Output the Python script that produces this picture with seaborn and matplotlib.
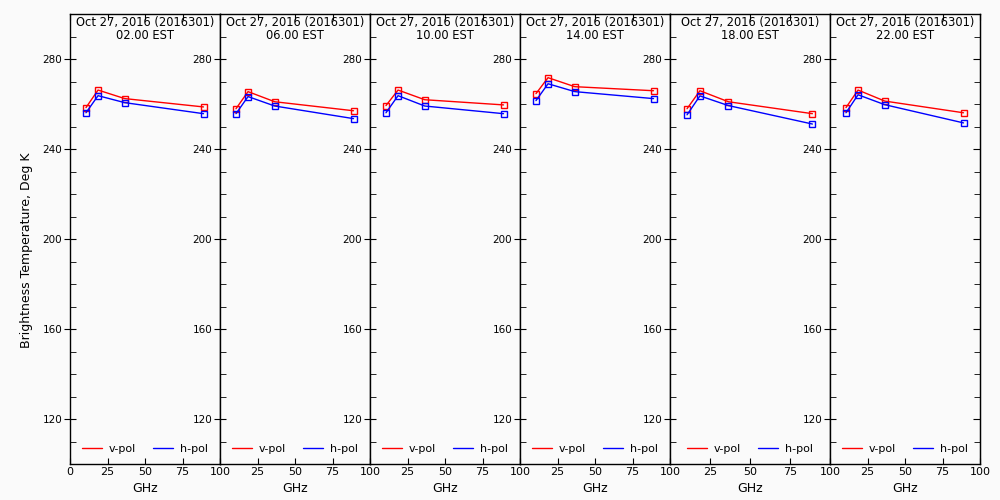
import matplotlib
matplotlib.use("Agg")
import matplotlib.pyplot as plt
from matplotlib.lines import Line2D
import pandas as pd
import seaborn as sns

# channel frequencies, GHz
freqs = [10.65, 18.7, 36.5, 89.0]

date_label = "Oct 27, 2016 (2016301)"
hours = ["02.00 EST", "06.00 EST", "10.00 EST", "14.00 EST", "18.00 EST", "22.00 EST"]

# brightness temperatures (K), one list per panel
v_pol = [
	[258.4, 266.2, 262.4, 258.7],
	[257.9, 265.5, 261.0, 257.0],
	[259.3, 266.2, 261.9, 259.6],
	[264.6, 271.7, 267.7, 265.9],
	[257.9, 265.9, 261.0, 255.7],
	[258.4, 266.2, 261.3, 256.1],
]
h_pol = [
	[256.1, 263.7, 260.6, 255.7],
	[255.7, 263.3, 259.1, 253.5],
	[256.1, 263.7, 259.1, 255.7],
	[261.5, 269.0, 265.5, 262.4],
	[255.2, 263.6, 259.3, 251.1],
	[256.1, 264.1, 259.7, 251.6],
]

x_ticks = [0, 25, 50, 75, 100]
y_ticks = [120, 160, 200, 240, 280]
y_minor = list(range(110, 300, 10))

sns.set_style("ticks")
plt.rcParams['font.family'] = ['DejaVu Sans']
plt.rcParams['xtick.color'] = 'black'
plt.rcParams['ytick.color'] = 'black'
plt.rcParams['text.color'] = 'black'
plt.rcParams['axes.labelcolor'] = 'black'

bg = '#fafafa'
fig = plt.figure(figsize=(10, 5), dpi=100, facecolor=bg)

# panel edges in pixels (the fifth panel is a little wider in the original)
edges = [70, 220, 370, 520, 670, 830, 980]
bottom, top = 464, 14

for i in range(6):
	left_px, right_px = edges[i], edges[i + 1]
	ax = fig.add_axes([left_px / 1000, (500 - bottom) / 500, (right_px - left_px) / 1000, (bottom - top) / 500])
	ax.set_facecolor(bg)

	df = pd.DataFrame({
		'GHz': freqs * 2,
		'Tb': v_pol[i] + h_pol[i],
		'pol': ['v-pol'] * 4 + ['h-pol'] * 4,
	})
	sns.lineplot(data=df, x='GHz', y='Tb', hue='pol', palette={'v-pol': '#ff0000', 'h-pol': '#0000ff'},
				 marker='s', markersize=4, markerfacecolor='none', markeredgewidth=1,
				 linewidth=1, legend=False, ax=ax)
	# markers should take the line colour
	for ln in ax.get_lines():
		ln.set_markeredgecolor(ln.get_color())

	ax.set_xlim(0, 100)
	ax.set_ylim(100, 300)
	ax.set_xticks(x_ticks)
	if i == 0:
		ax.set_xticklabels([str(t) for t in x_ticks])
	else:
		ax.set_xticklabels([''] + [str(t) for t in x_ticks[1:]])
	ax.set_yticks(y_ticks)
	ax.set_yticks(y_minor, minor=True)
	last = (i == 5)
	ax.tick_params(axis='x', which='major', direction='in', top=True, bottom=True, length=4, labelsize=8, pad=2)
	ax.tick_params(axis='y', which='major', direction='inout', left=True, right=False, length=9, labelsize=7.5, pad=1)
	ax.tick_params(axis='y', which='minor', direction='in', left=True, right=last, length=4)

	if last:
		sec = ax.secondary_yaxis('right')
		sec.set_yticks(y_ticks)
		sec.tick_params(direction='in', length=5, labelright=False)

	for sp in ax.spines.values():
		sp.set_linewidth(1)
		sp.set_color('black')

	ax.set_xlabel('GHz', fontsize=9, labelpad=4)
	ax.set_ylabel('')
	ax.text(0.5, 0.995, date_label + "\n" + hours[i], transform=ax.transAxes,
			ha='center', va='top', fontsize=8.3, linespacing=1.0)

	handles = [Line2D([], [], color='#ff0000', lw=1), Line2D([], [], color='#0000ff', lw=1)]
	ax.legend(handles, ['v-pol', 'h-pol'], loc='lower center', ncol=2, frameon=False,
			  fontsize=8, handlelength=1.8, columnspacing=1.5, handletextpad=0.6,
			  bbox_to_anchor=(0.5, 0.0))

fig.text(0.027, 0.5, 'Brightness Temperature, Deg K', rotation=90, ha='center', va='center', fontsize=9)

fig.savefig('out.png', dpi=100, facecolor=bg)
